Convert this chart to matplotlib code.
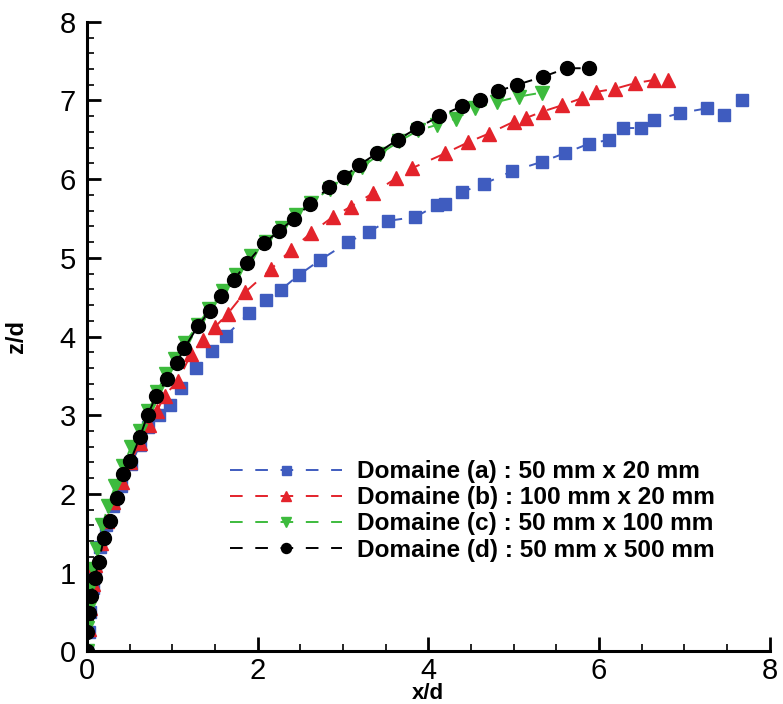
import matplotlib
matplotlib.use("Agg")
import matplotlib.pyplot as plt
from matplotlib.ticker import MultipleLocator

plt.rcParams['font.family'] = ['Liberation Sans', 'DejaVu Sans']

labels = ["Domaine (a) : 50 mm x 20 mm",
          "Domaine (b) : 100 mm x 20 mm",
          "Domaine (c) : 50 mm x 100 mm",
          "Domaine (d) : 50 mm x 500 mm"]

xa = [0, 0.02, 0.04, 0.07, 0.10, 0.15, 0.22, 0.30, 0.40, 0.52, 0.62, 0.72, 0.85, 0.97, 1.10, 1.28,
      1.47, 1.63, 1.90, 2.10, 2.27, 2.48, 2.73, 3.06, 3.30, 3.53, 3.85, 4.10, 4.20, 4.40, 4.65,
      4.98, 5.33, 5.60, 5.88, 6.12, 6.28, 6.49, 6.65, 6.95, 7.26, 7.47, 7.67]
za = [0, 0.25, 0.50, 0.80, 1.05, 1.33, 1.60, 1.85, 2.10, 2.38, 2.62, 2.85, 3.00, 3.13, 3.35, 3.60,
      3.82, 4.01, 4.30, 4.47, 4.59, 4.78, 4.97, 5.20, 5.33, 5.47, 5.52, 5.67, 5.69, 5.84, 5.94,
      6.10, 6.22, 6.33, 6.45, 6.50, 6.65, 6.65, 6.75, 6.84, 6.90, 6.82, 7.00]

xb = [0, 0.02, 0.04, 0.07, 0.10, 0.16, 0.23, 0.31, 0.41, 0.51, 0.62, 0.73, 0.82, 0.91, 1.07, 1.22,
      1.36, 1.50, 1.65, 1.85, 2.16, 2.39, 2.62, 2.88, 3.09, 3.35, 3.62, 3.81, 4.20, 4.47, 4.71,
      5.00, 5.15, 5.34, 5.57, 5.80, 5.97, 6.19, 6.42, 6.64, 6.81]
zb = [0, 0.28, 0.55, 0.85, 1.10, 1.38, 1.65, 1.90, 2.15, 2.40, 2.65, 2.88, 3.05, 3.25, 3.44, 3.78,
      3.95, 4.12, 4.29, 4.56, 4.86, 5.10, 5.31, 5.52, 5.65, 5.82, 6.01, 6.14, 6.33, 6.47, 6.58,
      6.73, 6.78, 6.86, 6.94, 7.03, 7.11, 7.15, 7.22, 7.26, 7.26]

xc = [0, 0, 0.02, 0.04, 0.07, 0.12, 0.18, 0.25, 0.33, 0.42, 0.52, 0.62, 0.72, 0.82, 0.93, 1.03,
      1.15, 1.30, 1.43, 1.60, 1.75, 1.92, 2.10, 2.28, 2.45, 2.62, 2.85, 3.05, 3.22, 3.43, 3.66,
      3.88, 4.10, 4.32, 4.55, 4.80, 5.06, 5.33]
zc = [0, 0.30, 0.55, 0.80, 1.05, 1.30, 1.60, 1.85, 2.10, 2.35, 2.60, 2.80, 3.05, 3.30, 3.52, 3.72,
      3.92, 4.15, 4.35, 4.58, 4.78, 5.02, 5.20, 5.38, 5.55, 5.70, 5.88, 6.02, 6.15, 6.32, 6.48,
      6.62, 6.69, 6.77, 6.90, 6.98, 7.05, 7.10]

xd = [0, 0, 0.02, 0.05, 0.09, 0.14, 0.20, 0.27, 0.35, 0.42, 0.51, 0.62, 0.71, 0.81, 0.94, 1.05,
      1.14, 1.30, 1.44, 1.57, 1.72, 1.88, 2.08, 2.25, 2.43, 2.61, 2.84, 3.01, 3.19, 3.40, 3.64,
      3.87, 4.13, 4.40, 4.60, 4.82, 5.04, 5.34, 5.62, 5.88]
zd = [0, 0.25, 0.49, 0.70, 0.93, 1.14, 1.44, 1.66, 1.95, 2.25, 2.42, 2.72, 3.00, 3.24, 3.46, 3.66,
      3.85, 4.13, 4.33, 4.52, 4.72, 4.94, 5.19, 5.34, 5.50, 5.68, 5.90, 6.03, 6.18, 6.33, 6.50,
      6.65, 6.80, 6.93, 7.01, 7.12, 7.20, 7.30, 7.41, 7.41]

series = [(xa, za, '#3f5cbf', 's', 9),
          (xb, zb, '#e3232b', '^', 10),
          (xc, zc, '#3dbb3d', 'v', 10),
          (xd, zd, '#000000', 'o', 10)]

fig = plt.figure(figsize=(7.83, 7.04), dpi=100)
ax = fig.add_axes([0.111, 0.075, 0.872, 0.894])

for (x, z, c, m, ms), lab in zip(series, labels):
    ax.plot(x, z, color=c, marker=m, markersize=ms, markeredgecolor=c,
            linestyle=(0, (6.5, 6.5)), linewidth=1.4, label=lab)

ax.set_xlim(0, 8)
ax.set_ylim(0, 8)
ax.spines['top'].set_visible(False)
ax.spines['right'].set_visible(False)
for s in ['left', 'bottom']:
    ax.spines[s].set_linewidth(2.2)
ax.xaxis.set_major_locator(MultipleLocator(2))
ax.xaxis.set_minor_locator(MultipleLocator(0.5))
ax.yaxis.set_major_locator(MultipleLocator(1))
ax.yaxis.set_minor_locator(MultipleLocator(0.2))
ax.tick_params(which='major', direction='in', length=10, width=2, labelsize=21)
ax.tick_params(axis='x', which='major', pad=4)
ax.tick_params(axis='y', which='major', pad=8)
ax.tick_params(which='minor', direction='in', length=5, width=1.2)
ax.set_xlabel('x/d', fontsize=16, fontweight='bold')
ax.set_ylabel('z/d', fontsize=17, fontweight='bold')
ax.xaxis.set_label_coords(0.5, -0.05)
ax.yaxis.set_label_coords(-0.086, 0.5)

leg = ax.legend(loc='upper left', bbox_to_anchor=(0.2094, 0.3037), frameon=False,
                borderaxespad=0, borderpad=0, markerscale=0.72,
                handlelength=4.6, labelspacing=0.13, handletextpad=0.6,
                prop={'weight': 'bold', 'size': 17.6})

fig.savefig('out.png', dpi=100)
